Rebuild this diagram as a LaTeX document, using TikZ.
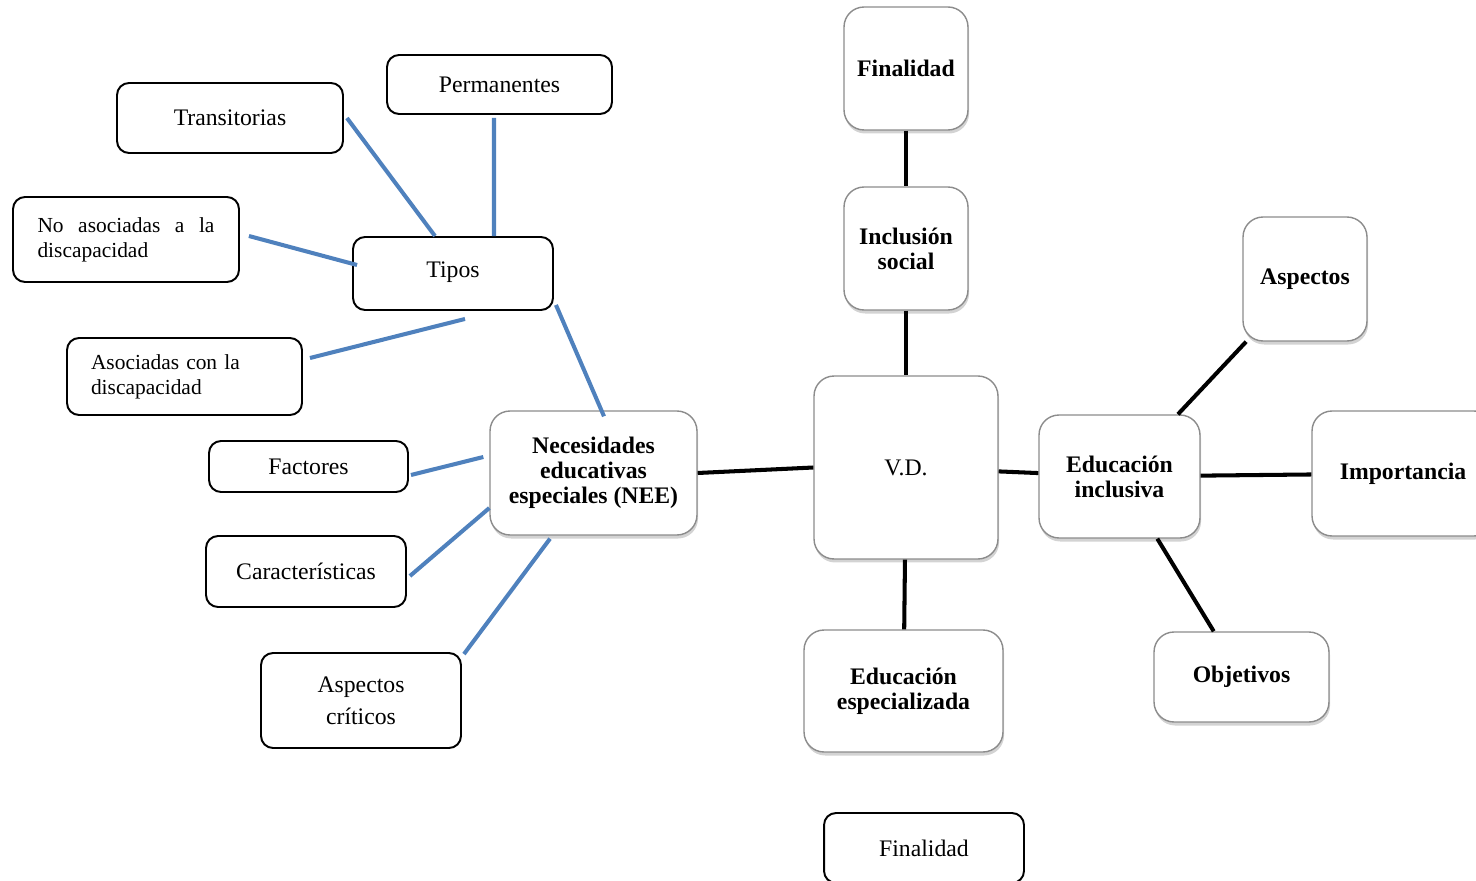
\documentclass[tikz,border=0pt]{standalone}
\usepackage{fontspec}
\setmainfont{Liberation Serif}
\usetikzlibrary{shadows}
\definecolor{lineblue}{RGB}{79,129,189}

\begin{document}
\begin{tikzpicture}[x=0.02cm, y=-0.02cm,
    font=\fontsize{13.5}{14.2}\selectfont,
    blackbox/.style={draw, line width=1.1pt, rounded corners=0.24cm, fill=white, align=center, inner sep=2pt},
    greybox/.style={draw=black!45, line width=0.8pt, rounded corners=0.4cm, fill=white, align=center, font=\fontsize{13.5}{14.2}\selectfont\bfseries,
        drop shadow={shadow xshift=0.6pt, shadow yshift=-2pt, opacity=0.35}},
    blueline/.style={draw=lineblue, line width=2.3pt},
    blackline/.style={draw=black, line width=2.3pt}]

    \useasboundingbox (0,0) rectangle (1476,881);
    \clip (0,0) rectangle (1476,881);

    % left side
    \node [blackbox, minimum width=4.52cm, minimum height=1.40cm] at (230,118) (trans) {Transitorias};
    \node [blackbox, minimum width=4.5cm, minimum height=1.18cm] at (499.5,84.5) (perm) {Permanentes};
    \node [blackbox, minimum width=4.52cm, minimum height=1.70cm, text width=3.54cm, align=justify, font=\fontsize{12.2}{14.2}\selectfont] at (126,239.5) (noasoc) {No asociadas a la discapacidad};
    \node [blackbox, minimum width=4.0cm, minimum height=1.46cm] at (453,273.5) (tipos) {\raisebox{0.17cm}{Tipos}};
    \node [blackbox, minimum width=4.7cm, minimum height=1.54cm, text width=3.74cm, align=left, font=\fontsize{12.2}{14.2}\selectfont] at (184.5,376.5) (asoc) {Asociadas con la\\discapacidad};
    \node [blackbox, minimum width=3.98cm, minimum height=1.02cm] at (308.5,466.5) (fact) {Factores};
    \node [blackbox, minimum width=4.0cm, minimum height=1.42cm] at (306,571.5) (carac) {Características};
    \node [blackbox, minimum width=4.0cm, minimum height=1.90cm, font=\fontsize{13.5}{18}\selectfont] at (361,700.5) (aspcrit) {Aspectos\\críticos};
    \node [blackbox, minimum width=4.0cm, minimum height=1.40cm] at (924,848) (finbot) {Finalidad};

    % right side
    \node [greybox, minimum width=4.14cm, minimum height=2.48cm] at (593.5,473) (nee) {Necesidades\\educativas\\especiales (NEE)};
    \node [greybox, minimum width=2.48cm, minimum height=2.46cm] at (906,68.5) (fintop) {Finalidad};
    \node [greybox, minimum width=2.48cm, minimum height=2.46cm] at (906,248.5) (incl) {Inclusión\\social};
    \node [greybox, minimum width=3.68cm, minimum height=3.66cm, font=\fontsize{13.5}{14.2}\selectfont] at (906,467.5) (vd) {V.D.};
    \node [greybox, minimum width=3.22cm, minimum height=2.46cm] at (1119.5,476.5) (edinc) {Educación\\inclusiva};
    \node [greybox, minimum width=2.48cm, minimum height=2.48cm] at (1305,279) (aspd) {Aspectos};
    \node [greybox, minimum width=3.64cm, minimum height=2.5cm] at (1403,473.5) (imp) {Importancia};
    \node [greybox, minimum width=3.5cm, minimum height=1.8cm] at (1241.5,677) (obj) {Objetivos};
    \node [greybox, minimum width=3.98cm, minimum height=2.44cm] at (903.5,691) (edesp) {Educación\\especializada};

    % blue connectors
    \path [blueline] ([xshift=0.06cm]trans.east) -- ([xshift=-0.36cm]tipos.north);
    \path [blueline] ([xshift=-0.11cm,yshift=-0.06cm]perm.south) -- ([xshift=0.82cm]tipos.north);
    \path [blueline] ([xshift=0.18cm,yshift=0.07cm]noasoc.east) -- ([xshift=0.1cm,yshift=0.17cm]tipos.west);
    \path [blueline] ([xshift=0.14cm,yshift=0.37cm]asoc.east) -- ([xshift=0.24cm,yshift=-0.16cm]tipos.south);
    \path [blueline] ([xshift=0.04cm,yshift=0.12cm]tipos.south east) -- ([xshift=0.21cm,yshift=-0.12cm]nee.north);
    \path [blueline] ([xshift=0.04cm,yshift=-0.17cm]fact.east) -- ([xshift=-0.12cm,yshift=0.32cm]nee.west);
    \path [blueline] ([xshift=0.06cm,yshift=-0.09cm]carac.east) -- ([yshift=-0.7cm]nee.west);
    \path [blueline] ([xshift=0.04cm,yshift=-0.04cm]aspcrit.north east) -- ([xshift=-0.87cm,yshift=-0.06cm]nee.south);

    % black connectors
    \path [blackline] (nee.east) -- (vd.west);
    \path [blackline] (fintop) -- (incl);
    \path [blackline] (incl) -- (vd);
    \path [blackline] (vd) -- (edinc);
    \path [blackline] (vd) -- (edesp);
    \path [blackline] (edinc) -- (imp);
    \path [blackline] (edinc) -- (aspd);
    \path [blackline] (edinc) -- (obj);

\end{tikzpicture}
\end{document}
